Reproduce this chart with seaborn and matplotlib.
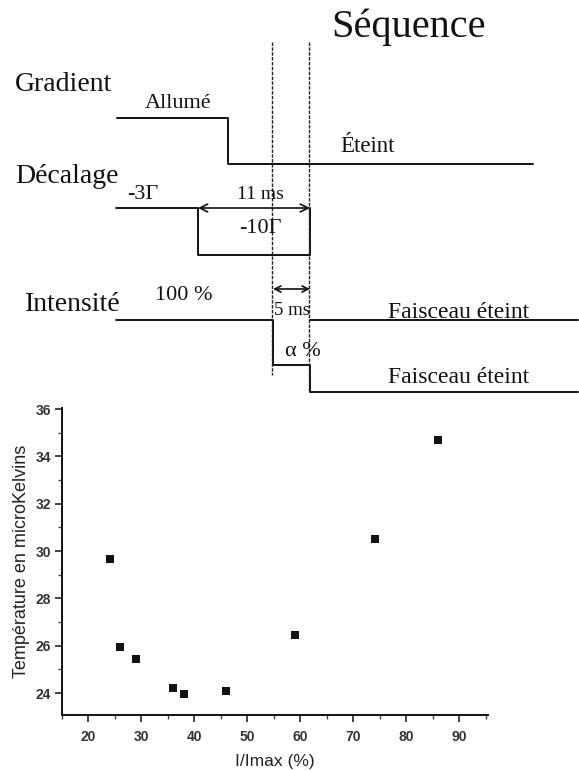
import numpy as np
import matplotlib
matplotlib.use("Agg")
import matplotlib.pyplot as plt
from matplotlib.ticker import MultipleLocator
import seaborn as sns

# =========================
# Data
# =========================
# scatter: temperature vs relative intensity
intensity_pct = [24, 26, 29, 36, 38, 46, 59, 74, 86]
temperature_uK = [29.65, 25.95, 25.45, 24.2, 23.97, 24.08, 26.45, 30.5, 34.7]
x_ticks = [20, 30, 40, 50, 60, 70, 80, 90]
y_ticks = [24, 26, 28, 30, 32, 34, 36]

# timing diagram (schematic, in figure pixel units)
grad_t = [117, 228, 228, 533]
grad_lvl = [118, 118, 164, 164]
dec_t = [116, 198, 198, 310, 310]
dec_lvl = [208, 208, 255, 255, 208]
int_t = [116, 273, 273, 310, 310, 578]
int_lvl = [320, 320, 365, 365, 392, 392]
beam_t = [310, 578]
beam_lvl = [320, 320]
marker_t = [272, 309]
marker_top = [42, 42]
marker_bottom = [375, 392]

# =========================
# Setup
# =========================
sns.set_theme(style="ticks")
SERIF = ["Liberation Serif", "DejaVu Serif"]
SANS = ["Liberation Sans", "DejaVu Sans"]
plt.rcParams["font.family"] = SERIF

W, H = 579, 770
fig = plt.figure(figsize=(W / 100, H / 100), dpi=100)
fig.patch.set_facecolor("white")

# =========================
# Timing diagram
# =========================
ax_d = fig.add_axes([0, 0, 1, 1])
ax_d.set_xlim(0, W)
ax_d.set_ylim(H, 0)
ax_d.axis("off")

LW = 1.4
for t, lvl in [(grad_t, grad_lvl), (dec_t, dec_lvl), (int_t, int_lvl), (beam_t, beam_lvl)]:
    sns.lineplot(x=t, y=lvl, sort=False, estimator=None, color="#111111",
                 linewidth=LW, ax=ax_d)

for xm, y0, y1 in zip(marker_t, marker_top, marker_bottom):
    ax_d.plot([xm, xm], [y0, y1], color="#222222", linewidth=1.0,
              linestyle=(0, (2.5, 1)))

# double arrows
ax_d.annotate("", xy=(198, 208), xytext=(310, 208),
              arrowprops=dict(arrowstyle="<->", color="#111111", lw=1.2,
                              shrinkA=0, shrinkB=0, mutation_scale=14))
ax_d.annotate("", xy=(273, 289), xytext=(310, 289),
              arrowprops=dict(arrowstyle="<->", color="#111111", lw=1.2,
                              shrinkA=0, shrinkB=0, mutation_scale=11))

def label(x, y, s, size):
    ax_d.text(x, y, s, fontsize=size, family=SERIF, color="#111111",
              ha="left", va="baseline")

label(331, 37, "Séquence", 29)
label(15, 91, "Gradient", 20)
label(145, 108, "Allumé", 16)
label(340, 152, "Éteint", 16.5)
label(15, 183, "Décalage", 20)
label(127, 199, "-3Γ", 16)
label(237, 199, "11 ms", 14)
label(239, 233, "-10Γ", 16)
label(25, 311, "Intensité", 20)
label(155, 300, "100 %", 16)
label(274, 315, "5 ms", 13.5)
label(285, 356, "α %", 16)
label(388, 318, "Faisceau éteint", 17)
label(388, 383, "Faisceau éteint", 17)

# =========================
# Scatter plot
# =========================
left, right, bottom, top = 62, 488, 715, 408
ax = fig.add_axes([left / W, 1 - bottom / H, (right - left) / W, (bottom - top) / H])
ax.set_facecolor("none")

sns.scatterplot(x=intensity_pct, y=temperature_uK, marker="s", s=32,
                color="#111111", edgecolor="none", ax=ax)

ax.set_xlim(15, 95.4)
ax.set_ylim(23.07, 36.05)
ax.set_xticks(x_ticks)
ax.set_yticks(y_ticks)
ax.xaxis.set_minor_locator(MultipleLocator(5))
ax.yaxis.set_minor_locator(MultipleLocator(1))
sns.despine(ax=ax)
for sp in ["left", "bottom"]:
    ax.spines[sp].set_linewidth(1.4)
    ax.spines[sp].set_color("#111111")
ax.tick_params(which="major", direction="out", length=5, width=1.2,
               color="#222222", pad=3)
ax.tick_params(which="minor", direction="out", length=3, width=1.0,
               color="#444444")
ax.tick_params(axis="x", which="major", pad=6)
for lab in ax.get_xticklabels() + ax.get_yticklabels():
    lab.set_family(SANS)
    lab.set_fontsize(10)
    lab.set_fontweight("bold")
    lab.set_color("#333333")

ax.set_xlabel("I/Imax (%)", family=SANS, fontsize=12.5, color="#222222",
              labelpad=7)
ax.set_ylabel("Température en microKelvins", family=SANS, fontsize=13,
              color="#222222", labelpad=4)

fig.savefig("out.png", dpi=100, facecolor="white")
